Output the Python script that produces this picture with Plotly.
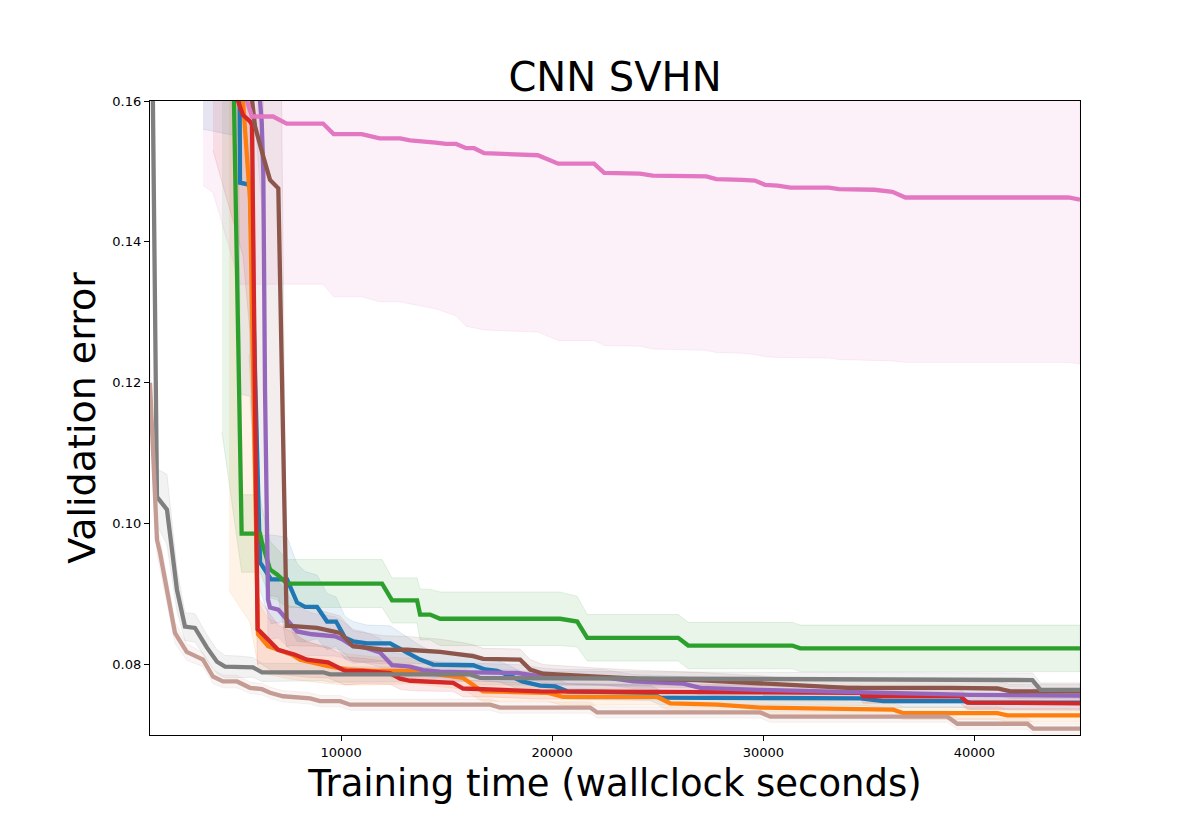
import plotly.graph_objects as go
import numpy as np

# ---- data (mean and std of validation error vs wallclock time) ----
blue_x = [3460, 5140, 5213, 5687, 6161, 6303, 6682, 7441, 7915, 8294, 8862, 9336, 9763, 10189, 10568,
          11232, 12322, 13128, 13744, 14360, 16256, 16824, 17393, 18009, 18578, 19431, 20142, 20711,
          24645, 25118, 34597, 35687, 39479, 39810, 45000]
blue_mean = [0.250, 0.200, 0.1484, 0.1481, 0.0945, 0.0938, 0.0921, 0.0921, 0.0888, 0.0882, 0.0882, 0.0861,
             0.0861, 0.0838, 0.0833, 0.0830, 0.0830, 0.0817, 0.0807, 0.0800, 0.0799, 0.0793, 0.0791, 0.0784,
             0.0776, 0.0770, 0.0769, 0.0762, 0.0760, 0.0753, 0.0752, 0.0748, 0.0748, 0.0746, 0.0746]
blue_std = [0.094, 0.045, 0.030, 0.030, 0.0040, 0.0045, 0.0063, 0.0060, 0.0055, 0.0050, 0.0045, 0.0040,
            0.0035, 0.0030, 0.0028, 0.0026, 0.0025, 0.0022, 0.0020, 0.0018, 0.0017, 0.0016, 0.0015, 0.0014,
            0.0013, 0.0012, 0.0012, 0.0011, 0.0011, 0.0010, 0.0010, 0.0009, 0.0009, 0.0009, 0.0009]

orange_x = [4692, 5687, 6066, 6540, 7677, 8057, 9336, 10284, 11516, 13412, 14834, 15782, 16446, 16730,
            18152, 19763, 20521, 24976, 25592, 27820, 29858, 36161, 36635, 41090, 41564, 45000]
orange_mean = [0.188, 0.146, 0.0843, 0.0826, 0.0814, 0.0807, 0.0798, 0.0793, 0.0791, 0.0791, 0.0785, 0.0781,
               0.0767, 0.0762, 0.0761, 0.0760, 0.0754, 0.0754, 0.0745, 0.0743, 0.0739, 0.0736, 0.0731,
               0.0731, 0.0728, 0.0728]
orange_std = [0.0975, 0.060, 0.0045, 0.0040, 0.0035, 0.0030, 0.0025, 0.0022, 0.0020, 0.0018, 0.0017, 0.0016,
              0.0015, 0.0014, 0.0013, 0.0012, 0.0012, 0.0011, 0.0011, 0.0010, 0.0010, 0.0010, 0.0009,
              0.0009, 0.0009, 0.0009]

green_x = [4360, 5290, 6161, 6256, 6635, 6966, 7440, 11942, 12416, 13601, 13743, 14217, 14691, 20378,
           21184, 21658, 25970, 26444, 31373, 31751, 45000]
green_mean = [0.256, 0.0986, 0.0986, 0.0973, 0.0935, 0.0928, 0.0915, 0.0915, 0.0891, 0.0891, 0.0871, 0.0871,
              0.0865, 0.0865, 0.0861, 0.0838, 0.0838, 0.0827, 0.0827, 0.0823, 0.0823]
green_std = [0.143, 0.0055, 0.0055, 0.0050, 0.0040, 0.0036, 0.0034, 0.0034, 0.0032, 0.0032, 0.0036, 0.0036,
             0.0038, 0.0038, 0.0036, 0.0033, 0.0033, 0.0033, 0.0033, 0.0033, 0.0033]

red_x = [3933, 5355, 5687, 5782, 6043, 6161, 7014, 7820, 8389, 9384, 10189, 11043, 12322, 12796, 13270,
         14692, 15308, 15782, 17061, 19431, 34597, 34739, 39336, 39668, 45000]
red_mean = [0.170, 0.158, 0.1571, 0.1566, 0.0850, 0.0847, 0.0821, 0.0814, 0.0807, 0.0803, 0.0791, 0.0791,
            0.0788, 0.0780, 0.0777, 0.0775, 0.0774, 0.0766, 0.0765, 0.0762, 0.0760, 0.0755, 0.0755, 0.0746,
            0.0745]
red_std = [0.017, 0.020, 0.030, 0.040, 0.0050, 0.0045, 0.0035, 0.0030, 0.0025, 0.0022, 0.0020, 0.0018,
           0.0016, 0.0015, 0.0014, 0.0013, 0.0012, 0.0012, 0.0011, 0.0011, 0.0010, 0.0010, 0.0010, 0.0010,
           0.0010]

purple_x = [5995, 6242, 6317, 6398, 6540, 6635, 7028, 7915, 8626, 9716, 10047, 10568, 11043, 11848, 12417,
            13270, 13886, 14692, 16114, 18341, 19573, 20521, 22416, 23838, 26208, 27014, 29858, 34597,
            39810, 45000]
purple_mean = [0.1665, 0.1569, 0.1498, 0.1190, 0.0892, 0.0881, 0.0878, 0.0847, 0.0843, 0.0840, 0.0836,
               0.0826, 0.0825, 0.0817, 0.0799, 0.0797, 0.0792, 0.0790, 0.0789, 0.0788, 0.0783, 0.0782,
               0.0782, 0.0776, 0.0773, 0.0767, 0.0764, 0.0760, 0.0757, 0.0756]
purple_std = [0.012, 0.012, 0.012, 0.010, 0.0050, 0.0045, 0.0040, 0.0035, 0.0030, 0.0028, 0.0026, 0.0024,
              0.0022, 0.0020, 0.0018, 0.0016, 0.0015, 0.0014, 0.0013, 0.0012, 0.0012, 0.0011, 0.0011,
              0.0010, 0.0010, 0.0010, 0.0010, 0.0009, 0.0009, 0.0009]

brown_x = [5640, 5924, 6317, 6635, 7028, 7426, 7583, 8862, 9952, 10568, 11990, 13128, 14692, 15782, 16256,
           16730, 18483, 18957, 19573, 22131, 24029, 26871, 29858, 30948, 33981, 38863, 41090, 41706, 45000]
brown_mean = [0.164, 0.1564, 0.1521, 0.1488, 0.1476, 0.0855, 0.0855, 0.0852, 0.0845, 0.0826, 0.0821, 0.0821,
              0.0818, 0.0814, 0.0812, 0.0808, 0.0807, 0.0793, 0.0787, 0.0783, 0.0780, 0.0778, 0.0773,
              0.0771, 0.0767, 0.0767, 0.0766, 0.0762, 0.0762]
brown_std = [0.040, 0.050, 0.058, 0.059, 0.058, 0.0030, 0.0028, 0.0026, 0.0024, 0.0022, 0.0020, 0.0019,
             0.0018, 0.0017, 0.0016, 0.0015, 0.0015, 0.0014, 0.0013, 0.0012, 0.0012, 0.0011, 0.0011,
             0.0010, 0.0010, 0.0010, 0.0010, 0.0010, 0.0010]

pink_x = [3460, 3933, 5213, 5782, 6777, 7028, 7426, 9147, 9649, 10976, 11825, 12796, 13270, 14483, 14967,
          15450, 15924, 16303, 16777, 19318, 20284, 21981, 22464, 24156, 24758, 27298, 27772, 28990, 29597,
          30080, 30682, 31280, 33104, 33588, 35261, 36114, 36730, 44455, 45000]
pink_mean = [0.175, 0.172, 0.163, 0.1578, 0.1578, 0.1574, 0.1568, 0.1568, 0.1553, 0.1553, 0.1547, 0.1547,
             0.1544, 0.1541, 0.1539, 0.1539, 0.1533, 0.1533, 0.1526, 0.1523, 0.1511, 0.1511, 0.1498, 0.1497,
             0.1494, 0.1493, 0.1489, 0.1488, 0.1487, 0.1481, 0.1480, 0.1477, 0.1477, 0.1475, 0.1474, 0.1471,
             0.1463, 0.1463, 0.1460]
pink_std = [0.027, 0.025, 0.029, 0.0238, 0.0238, 0.0234, 0.0228, 0.0228, 0.0231, 0.0231, 0.0232, 0.0232,
            0.0232, 0.0236, 0.0239, 0.0244, 0.0253, 0.0255, 0.0251, 0.0251, 0.0251, 0.0251, 0.0245, 0.0245,
            0.0246, 0.0247, 0.0246, 0.0246, 0.0247, 0.0244, 0.0244, 0.0242, 0.0242, 0.0242, 0.0242, 0.0240,
            0.0234, 0.0234, 0.0233]

gray_x = [950, 1280, 1753, 2227, 2606, 3080, 3649, 4123, 4502, 5213, 5829, 6255, 9147, 9478, 16114, 16588,
          29858, 42746, 43127, 45000]
gray_mean = [0.200, 0.1038, 0.1020, 0.0906, 0.0854, 0.0852, 0.0824, 0.0804, 0.0797, 0.0797, 0.0796, 0.0789,
             0.0789, 0.0786, 0.0786, 0.0781, 0.0779, 0.0778, 0.0764, 0.0764]
gray_std = [0.030, 0.004, 0.005, 0.003, 0.002, 0.002, 0.0018, 0.0017, 0.0016, 0.0015, 0.0014, 0.0013,
            0.0012, 0.0011, 0.0010, 0.0010, 0.0010, 0.0010, 0.0010, 0.0010]

tan_x = [950, 1280, 1422, 2133, 2687, 3460, 3933, 4407, 5071, 5687, 6255, 6635, 7251, 8530, 9004, 9952,
         10426, 17060, 17534, 21800, 22131, 29855, 30329, 38717, 39190, 42508, 42793, 45000]
tan_mean = [0.120, 0.0977, 0.0959, 0.0845, 0.0818, 0.0807, 0.0783, 0.0776, 0.0776, 0.0767, 0.0765, 0.0760,
            0.0755, 0.0752, 0.0748, 0.0748, 0.0743, 0.0743, 0.0739, 0.0739, 0.0732, 0.0732, 0.0726, 0.0726,
            0.0716, 0.0716, 0.0709, 0.0709]
tan_std = [0.004, 0.002, 0.002, 0.0015, 0.0012, 0.0010, 0.0010, 0.0009, 0.0009, 0.0008, 0.0008, 0.0008,
           0.0008, 0.0008, 0.0008, 0.0008, 0.0008, 0.0008, 0.0008, 0.0008, 0.0008, 0.0008, 0.0008, 0.0008,
           0.0008, 0.0008, 0.0008, 0.0008]

x_ticks = [10000, 20000, 30000, 40000]
x_ticktext = ["10000", "20000", "30000", "40000"]
y_ticks = [0.08, 0.10, 0.12, 0.14, 0.16]
y_ticktext = ["0.08", "0.10", "0.12", "0.14", "0.16"]

series = [
    (blue_x, blue_mean, blue_std, (31, 119, 180)),
    (orange_x, orange_mean, orange_std, (255, 127, 14)),
    (green_x, green_mean, green_std, (44, 160, 44)),
    (red_x, red_mean, red_std, (214, 39, 40)),
    (purple_x, purple_mean, purple_std, (148, 103, 189)),
    (brown_x, brown_mean, brown_std, (140, 86, 75)),
    (pink_x, pink_mean, pink_std, (227, 119, 194)),
    (gray_x, gray_mean, gray_std, (127, 127, 127)),
    (tan_x, tan_mean, tan_std, (196, 156, 148)),
]


def rgba(c, a):
    return "rgba(%d,%d,%d,%s)" % (c[0], c[1], c[2], a)


fig = go.Figure()

# shaded bands first (below all lines, like matplotlib's zorder)
for x, m, s, c in series:
    x, m, s = np.array(x), np.array(m), np.array(s)
    fig.add_trace(go.Scatter(
        x=np.concatenate([x, x[::-1]]),
        y=np.concatenate([m + s, (m - s)[::-1]]),
        fill="toself", fillcolor=rgba(c, 0.1),
        line=dict(width=1, color=rgba(c, 0.12)),
        mode="lines", hoverinfo="skip", showlegend=False))

for x, m, s, c in series:
    fig.add_trace(go.Scatter(x=x, y=m, mode="lines",
                             line=dict(color=rgba(c, 1), width=4.3),
                             showlegend=False))

# the page body has an 8px margin, so the figure is shifted by that much
font = "DejaVu Sans, Arial, sans-serif"
fig.update_layout(
    width=1200, height=840,
    margin=dict(l=142, r=128, t=93, b=113),
    paper_bgcolor="white", plot_bgcolor="white",
    font=dict(family=font, color="black"),
    title=dict(text="CNN SVHN", x=0.5, xref="paper", xanchor="center",
               y=1 - 69 / 840, yref="container", yanchor="middle",
               font=dict(size=40, family=font, color="black")),
)
fig.update_xaxes(range=[950, 45000], tickvals=x_ticks, ticktext=x_ticktext, ticks="outside", ticklen=5,
                 tickwidth=1, tickcolor="black", showline=True, linecolor="black", linewidth=1.2,
                 mirror=True, showgrid=False, zeroline=False, tickfont=dict(size=13),
                 title=dict(text="Training time (wallclock seconds)", font=dict(size=37), standoff=11))
fig.update_yaxes(range=[0.07, 0.16], tickvals=y_ticks, ticktext=y_ticktext, ticks="outside", ticklen=5,
                 tickwidth=1, tickcolor="black", showline=True, linecolor="black", linewidth=1.2,
                 mirror=True, showgrid=False, zeroline=False, tickfont=dict(size=13),
                 title=dict(text="Validation error", font=dict(size=38), standoff=5))

fig.write_html("out.html")
